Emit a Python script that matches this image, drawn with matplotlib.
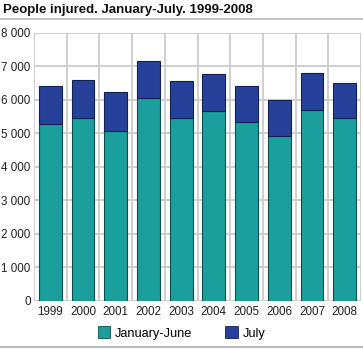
import matplotlib.pyplot as plt
from matplotlib.lines import Line2D
from matplotlib.patches import Patch
import numpy as np

plt.rcParams['font.family'] = ['Liberation Sans', 'DejaVu Sans']

years = ['1999', '2000', '2001', '2002', '2003', '2004', '2005', '2006', '2007', '2008']
jan_june = [5275, 5440, 5075, 6060, 5440, 5650, 5345, 4925, 5680, 5460]
totals = [6410, 6590, 6220, 7160, 6550, 6765, 6390, 5990, 6790, 6490]
july = [t - j for t, j in zip(totals, jan_june)]

teal = '#1a9f9c'
navy = '#27419a'

fig = plt.figure(figsize=(3.63, 3.5), dpi=100)
ax = fig.add_axes([34 / 363, 49.3 / 350, 327 / 363, 268.2 / 350])

x = np.arange(len(years))
ax.bar(x, jan_june, width=0.7, color=teal, edgecolor='#0d4f4e', linewidth=0.8, zorder=3)
ax.bar(x, july, bottom=jan_june, width=0.7, color=navy, edgecolor='#142050', linewidth=0.8, zorder=3)

ax.set_xlim(-0.5, len(years) - 0.5)
ax.set_ylim(0, 8000)
ax.set_yticks(range(0, 8001, 1000))
ax.set_yticklabels(['0' if v == 0 else f'{v // 1000} 000' for v in range(0, 8001, 1000)])
ax.set_xticks(x)
ax.set_xticklabels(years)
ax.tick_params(length=0, labelsize=8.4, colors='#222222')
ax.tick_params(axis='y', pad=2.5)
ax.tick_params(axis='x', pad=3.5)

# gridlines: horizontal at ticks, vertical at category boundaries
for v in range(0, 8001, 1000):
    ax.axhline(v, color='#cccccc', linewidth=1.3, zorder=1)
for b in np.arange(-0.5, len(years), 1.0):
    ax.axvline(b, color='#cccccc', linewidth=1.3, zorder=1)
for s in ax.spines.values():
    s.set_visible(False)

fig.text(3 / 363, 1 - 9.5 / 350, 'People injured. January-July. 1999-2008',
         fontsize=9.5, fontweight='bold', va='center', ha='left', color='#111111')
fig.add_artist(Line2D([0, 1], [1 - 19 / 350] * 2, color='#bbbbbb', linewidth=1.2))
fig.add_artist(Line2D([0, 1], [1 - 347 / 350] * 2, color='#bbbbbb', linewidth=1.5))

handles = [Patch(facecolor=teal, edgecolor='#0d4f4e', linewidth=0.6, label='January-June'),
           Patch(facecolor=navy, edgecolor='#142050', linewidth=0.6, label='July')]
fig.legend(handles=handles, loc='center', bbox_to_anchor=(0.5, 1 - 333 / 350), ncol=2,
           frameon=False, fontsize=9.2, handlelength=1.0, handleheight=1.0,
           handletextpad=0.35, columnspacing=2.6)

fig.savefig('out.png', dpi=100)
